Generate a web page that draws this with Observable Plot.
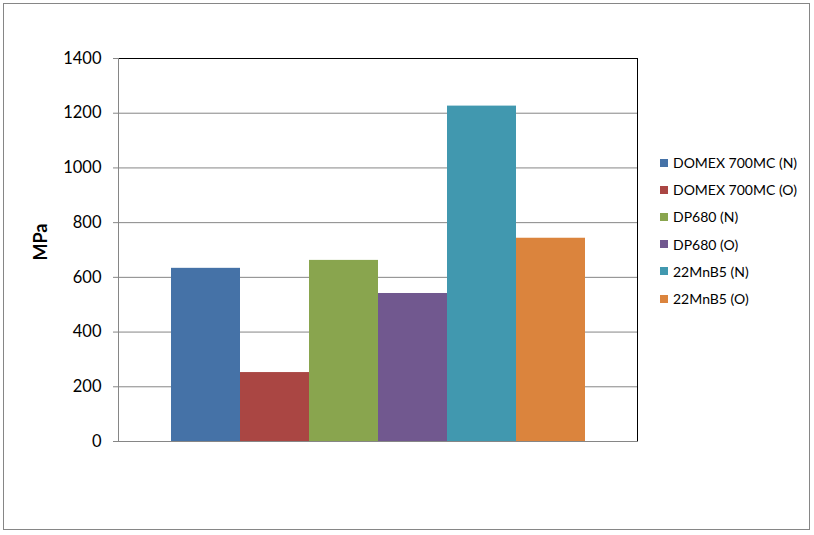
<!DOCTYPE html>
<html>
<head>
<meta charset="utf-8">
<script src="https://cdn.jsdelivr.net/npm/d3@7"></script>
<script src="https://cdn.jsdelivr.net/npm/@observablehq/plot@0.6"></script>
<style>
  body { margin: 0; background: #fff; }
  #wrap { position: relative; width: 814px; height: 535px; overflow: hidden; background: #fff; }
  #border { position: absolute; left: 3px; top: 3px; width: 807px; height: 527px; border: 1px solid #868686; box-sizing: border-box; }
  #chart { position: absolute; left: 0; top: 0; }
  #ylabel { position: absolute; left: 40px; top: 242px; transform: translate(-50%, -50%) rotate(-90deg);
            font: bold 18px Lato, "Open Sans", sans-serif; color: #000; white-space: nowrap; }
  #legend { position: absolute; left: 660px; top: 149px; font: 14px Lato, "Open Sans", sans-serif; color: #000; }
  .item { height: 27.2px; display: flex; align-items: center; }
  .sw { width: 8px; height: 8px; margin-right: 5px; }
</style>
</head>
<body>
<div id="wrap">
  <div id="border"></div>
  <div id="chart"></div>
  <div id="ylabel">MPa</div>
  <div id="legend"></div>
</div>
<script>
const series = ["DOMEX 700MC (N)", "DOMEX 700MC (O)", "DP680 (N)", "DP680 (O)", "22MnB5 (N)", "22MnB5 (O)"];
const values = [633, 252, 662, 541, 1226, 743];
const colors = ["#4572A7", "#AA4643", "#89A54E", "#71588F", "#4198AF", "#DB843D"];
const yTicks = [0, 200, 400, 600, 800, 1000, 1200, 1400];

const data = series.map((s, i) => ({series: s, value: values[i]}));

const chart = Plot.plot({
  width: 814,
  height: 535,
  marginLeft: 118,
  marginRight: 177,
  marginTop: 58,
  marginBottom: 94,
  style: {fontFamily: "Lato, 'Open Sans', sans-serif", fontSize: "16.5px", color: "#000", background: "transparent"},
  x: {domain: series, paddingInner: 0, paddingOuter: 0.74, axis: null},
  y: {domain: [0, 1400], ticks: yTicks, label: null},
  color: {domain: series, range: colors},
  marks: [
    Plot.ruleY(yTicks.filter(t => t < 1400), {stroke: "#868686", strokeWidth: 1}),
    Plot.frame({stroke: "#000"}),
    Plot.frame({anchor: "left", stroke: "#868686"}),
    Plot.frame({anchor: "bottom", stroke: "#868686"}),
    Plot.barY(data, {x: "series", y: "value", fill: "series"}),
    Plot.axisY({ticks: yTicks, tickSize: 5, tickPadding: 12, stroke: "#868686", label: null, tickFormat: d => String(d)})
  ]
});
document.getElementById("chart").appendChild(chart);

const legend = document.getElementById("legend");
series.forEach((s, i) => {
  const item = document.createElement("div");
  item.className = "item";
  const sw = document.createElement("div");
  sw.className = "sw";
  sw.style.background = colors[i];
  const t = document.createElement("span");
  t.textContent = s;
  item.appendChild(sw);
  item.appendChild(t);
  legend.appendChild(item);
});
</script>
</body>
</html>
